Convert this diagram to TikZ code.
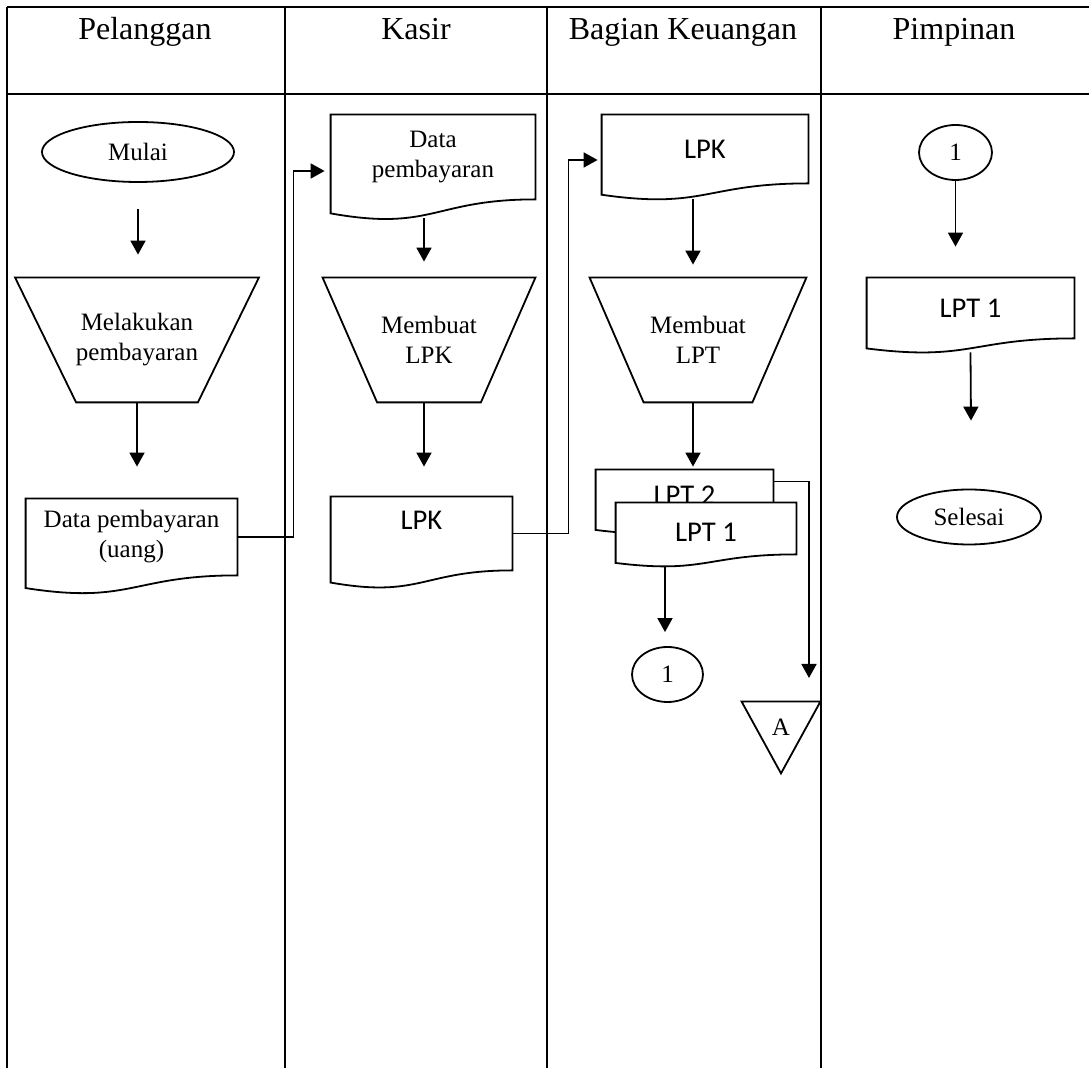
\documentclass[tikz,border=0pt]{standalone}
\usepackage{fontspec}
\setmainfont{Liberation Serif}
\newfontfamily\calibri{Carlito}
\usetikzlibrary{arrows.meta,calc,shapes.geometric}

% document symbol (wavy bottom) drawn round a named node
\newcommand{\docpath}[1]{let \p1=(#1.north west), \p2=(#1.south east) in
  (\p1) -- (\x2,\y1) -- (\p2)
  .. controls ({(\x1+\x2)/2},\y2) and ({(\x1+\x2)/2},{\y2-0.381*(\y1-\y2)}) ..
  (\x1,{\y2-0.165*(\y1-\y2)}) -- cycle}

\begin{document}
\begin{tikzpicture}[
    x=0.5pt, y=0.5pt, yscale=-1, xscale=1,
    every node/.style={inner sep=0pt},
    lane/.style={font=\fontsize{16}{19}\selectfont, anchor=base},
    txt/.style={font=\fontsize{12.5}{15}\selectfont, align=center},
    term/.style={ellipse, draw, line width=0.9pt, txt},
    docbox/.style={rectangle, font=\calibri\fontsize{14.3}{17}\selectfont, align=center},
    procbox/.style={rectangle, txt},
    outline/.style={line width=0.9pt},
    arr/.style={-{Triangle[length=7pt,width=7.5pt]}, line width=0.9pt}
]
\useasboundingbox (0,0) rectangle (1089,1068);

%==================== Table ====================
\draw[line width=1pt] (7,7) -- (1089,7);
\draw[line width=1pt] (7,7) -- (7,1068);
\foreach \x in {285,547,821}
  \draw[line width=0.6pt] (\x,7) -- (\x,1068);
\draw[line width=0.8pt] (7,94) -- (1089,94);

\node[lane] (hpel) at (145,40) {Pelanggan};
\node[lane] (hkas) at (416,40) {Kasir};
\node[lane] (hkeu) at (683,40) {Bagian Keuangan};
\node[lane] (hpim) at (954,40) {Pimpinan};

%==================== Pelanggan ====================
\node[term, minimum width=96pt, minimum height=30pt] (mulai) at (138,152) {Mulai};
\node[procbox, minimum width=121.5pt, minimum height=62pt] (lakukan) at (137,340) {Melakukan\\pembayaran};
\node[txt, minimum width=105.5pt, minimum height=38pt] (uang) at (131.5,537) {Data pembayaran\\(uang)};

%==================== Kasir ====================
\node[txt, minimum width=102pt, minimum height=42pt] (dbayar) at (433,157) {Data\\pembayaran};
\node[procbox, minimum width=106pt, minimum height=62pt] (buatlpk) at (429,340) {Membuat\\LPK};
\node[docbox, minimum width=90.5pt, minimum height=36.5pt, text depth=13pt] (lpkkas) at (421.5,533.5) {LPK};

%==================== Bagian Keuangan ====================
\node[docbox, minimum width=103pt, minimum height=34pt] (lpkku) at (705,149) {LPK};
\node[procbox, minimum width=108pt, minimum height=62pt] (buatlpt) at (698,340) {Membuat\\LPT};
\node[docbox, minimum width=88.5pt, minimum height=25.5pt] (lpt2) at (684.5,495.5) {LPT 2};
\draw[outline] \docpath{lpt2};
\node[docbox, minimum width=90pt, minimum height=25.5pt] (lpt1) at (706,528.5) {};
\draw[outline, fill=white] \docpath{lpt1};
\node[docbox] (lpt1txt) at ($(lpt1)+(0,4)$) {LPT 1};
\node[term, minimum width=35.5pt, minimum height=27.5pt] (satu) at (667.5,674.5) {1};
\node[txt, minimum width=39pt, minimum height=35.5pt, text depth=10pt] (offA) at (781,737.5) {A};
\draw[outline] (offA.north west) -- (offA.north east) -- (offA.south) -- cycle;

%==================== Pimpinan ====================
\node[term, minimum width=36.5pt, minimum height=27.5pt] (satub) at (955.5,152.5) {1};
\node[docbox, minimum width=103.5pt, minimum height=30pt] (lpt1p) at (970.5,308) {LPT 1};
\node[term, minimum width=72pt, minimum height=27.5pt] (selesai) at (969,517) {Selesai};

% outlines
\foreach \nm/\d in {lakukan/61, buatlpk/54.5, buatlpt/54}
  \draw[outline] (\nm.north west) -- (\nm.north east) -- ($(\nm.south east)+(-\d,0)$)
    -- ($(\nm.south west)+(\d,0)$) -- cycle;
\foreach \nm in {uang,dbayar,lpkkas,lpkku,lpt1p}
  \draw[outline] \docpath{\nm};

%==================== Connectors ====================
\draw[arr, shorten <=13pt, shorten >=11.5pt] (mulai.south) -- (mulai.south |- lakukan.north);
\draw[arr, shorten >=16pt] (lakukan.south) -- (lakukan.south |- uang.north);
\draw[arr, shorten >=3pt] (uang.east) -- ++(56,0) |- ($(dbayar.west)+(0,14)$);

\draw[arr] ($(dbayar.south)+(-9,19)$) -- ($(buatlpk.north)+(-5,-16)$);
\draw[arr] ($(buatlpk.south)+(-5,0)$) -- ($(lpkkas.north)+(2.5,-30)$);
\draw[arr, shorten >=2pt] (lpkkas.east) -- ++(56,0) |- ($(lpkku.west)+(0,11)$);

\draw[arr] ($(lpkku.south)+(-12,16)$) -- ($(buatlpt.north)+(-5,-13)$);
\draw[arr] ($(buatlpt.south)+(-5,0)$) -- ($(lpt2.north)+(8.5,-3)$);
\draw[arr] ($(lpt1.south)+(-41,12)$) -- ($(satu.north)+(-2.5,-14)$);
\coordinate (toA) at (809,678);
\draw[arr] ($(lpt2.north east)+(0,12)$) -| (toA);

\draw[arr, shorten >=15.5pt] (satub.south) -- (satub.south |- lpt1p.north);
\draw[arr] ($(lpt1p.south)+(0,14)$) -- ($(selesai.north)+(2,-68)$);

\end{tikzpicture}
\end{document}
